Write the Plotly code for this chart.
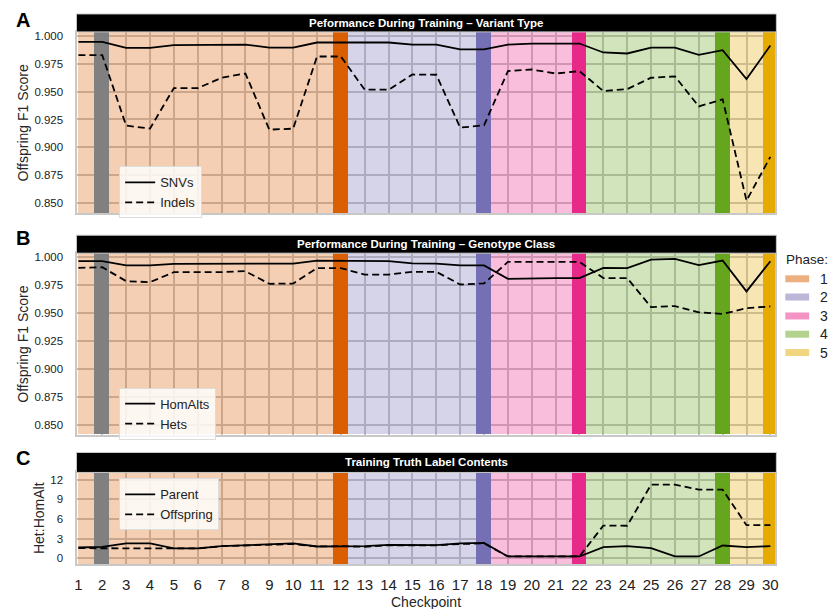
import plotly.graph_objects as go

W, H = 831, 609

checkpoints = list(range(1, 31))

# Panel A: offspring F1 by variant type
snv_f1 = [0.9944, 0.9944, 0.9890, 0.9890, 0.9914, 0.9914, 0.9917, 0.9920, 0.9893, 0.9893,
          0.9938, 0.9938, 0.9938, 0.9938, 0.9920, 0.9920, 0.9876, 0.9876, 0.9920, 0.9929,
          0.9929, 0.9929, 0.9849, 0.9840, 0.9893, 0.9893, 0.9828, 0.9870, 0.9611, 0.9911]
indel_f1 = [0.9825, 0.9825, 0.9195, 0.9168, 0.9531, 0.9530, 0.9623, 0.9661, 0.9159, 0.9168,
            0.9813, 0.9813, 0.9516, 0.9516, 0.9652, 0.9650, 0.9177, 0.9198, 0.9682, 0.9697,
            0.9661, 0.9682, 0.9504, 0.9522, 0.9623, 0.9635, 0.9367, 0.9430, 0.8524, 0.8916]

# Panel B: offspring F1 by genotype class
homalt_f1 = [0.9964, 0.9964, 0.9926, 0.9926, 0.9940, 0.9940, 0.9940, 0.9941, 0.9942, 0.9943,
             0.9970, 0.9970, 0.9964, 0.9964, 0.9945, 0.9943, 0.9926, 0.9926, 0.9807, 0.9813,
             0.9813, 0.9813, 0.9905, 0.9902, 0.9979, 0.9985, 0.9929, 0.9970, 0.9694, 0.9964]
het_f1 = [0.9905, 0.9910, 0.9786, 0.9777, 0.9866, 0.9866, 0.9867, 0.9875, 0.9762, 0.9765,
          0.9902, 0.9902, 0.9845, 0.9845, 0.9869, 0.9869, 0.9756, 0.9765, 0.9958, 0.9958,
          0.9958, 0.9958, 0.9813, 0.9813, 0.9554, 0.9563, 0.9507, 0.9492, 0.9545, 0.9560]

# Panel C: Het:HomAlt ratio of training truth labels
parent_ratio = [1.67, 1.77, 2.28, 2.28, 1.52, 1.52, 1.87, 1.97, 2.12, 2.28,
                1.82, 1.87, 1.87, 2.08, 2.02, 2.02, 2.28, 2.37, 0.30, 0.30,
                0.30, 0.30, 1.72, 1.87, 1.56, 0.30, 0.30, 1.97, 1.72, 1.87]
offspring_ratio = [1.56, 1.56, 1.56, 1.56, 1.52, 1.52, 1.87, 1.97, 2.12, 2.20,
                   1.82, 1.87, 1.77, 2.00, 2.00, 2.00, 2.20, 2.30, 0.30, 0.30,
                   0.30, 0.30, 5.01, 4.98, 11.24, 11.24, 10.48, 10.48, 5.06, 5.06]

# Training phases (checkpoint spans) and Dark2 colours
phase_names = ["1", "2", "3", "4", "5"]
phase_start = [1, 12, 18, 22, 28]
phase_end = [12, 18, 22, 28, 31]
phase_colors = ["#d95f02", "#7570b3", "#e7298a", "#66a61e", "#e6ab02"]

# Selected checkpoints marked with solid bars
marked_checkpoints = [2, 12, 18, 22, 28, 30]
marked_colors = ["#808080", "#d95f02", "#7570b3", "#e7298a", "#66a61e", "#e6ab02"]
marked_width = 0.62

panel_titles = ["Peformance During Training \u2013 Variant Type",
                "Performance During Training \u2013 Genotype Class",
                "Training Truth Label Contents"]
panel_letters = ["A", "B", "C"]

FONT = "Liberation Sans, Arial, sans-serif"
X_RANGE = [0.96, 30.21]


def px(xp):
    return xp / W


def py(yp):
    return 1 - yp / H


def rgba(hexc, a):
    h = hexc.lstrip("#")
    r, g, b = int(h[0:2], 16), int(h[2:4], 16), int(h[4:6], 16)
    return f"rgba({r},{g},{b},{a})"


# plot-area boxes in pixels: (top, bottom), title strip (top, bottom)
panels = [
    dict(area=(30, 212), bar=(12, 30), yrange=[0.8411, 1.0033],
         ticks=[0.85, 0.875, 0.9, 0.925, 0.95, 0.975, 1.0], fmt=".3f",
         ytitle="Offspring F1 Score", ytitle_x=20, letter_y=18),
    dict(area=(252, 434), bar=(234, 252), yrange=[0.8414, 1.0036],
         ticks=[0.85, 0.875, 0.9, 0.925, 0.95, 0.975, 1.0], fmt=".3f",
         ytitle="Offspring F1 Score", ytitle_x=20, letter_y=237),
    dict(area=(472, 564), bar=(452, 472), yrange=[-0.87, 13.1],
         ticks=[0, 3, 6, 9, 12], fmt="d",
         ytitle="Het:HomAlt", ytitle_x=37, letter_y=458),
]
X_LEFT, X_RIGHT = 75, 778

series = [
    [("SNVs", snv_f1, "solid"), ("Indels", indel_f1, "7px,4px")],
    [("HomAlts", homalt_f1, "solid"), ("Hets", het_f1, "7px,4px")],
    [("Parent", parent_ratio, "solid"), ("Offspring", offspring_ratio, "7px,4px")],
]
legend_names = ["legend", "legend2", "legend3"]
legend_pos = [(117, 165), (117, 387), (117, 478)]

fig = go.Figure()
shapes = []
annotations = []
layout = dict(
    width=W, height=H, margin=dict(l=0, r=0, t=0, b=0),
    paper_bgcolor="white", plot_bgcolor="white",
    font=dict(family=FONT, color="#222222"),
    showlegend=True, barmode="overlay", bargap=0,
)

for i, p in enumerate(panels):
    ax = "" if i == 0 else str(i + 1)
    xa, ya = "x" + ax, "y" + ax
    y0, y1 = p["yrange"]
    span = y1 - y0

    # phase shading as translucent full-height bars (over the grid)
    fig.add_trace(go.Bar(
        x=[(s + e) / 2 for s, e in zip(phase_start, phase_end)],
        y=[span] * len(phase_start), base=[y0] * len(phase_start),
        width=[e - s for s, e in zip(phase_start, phase_end)],
        marker=dict(color=[rgba(c, 0.3) for c in phase_colors], line=dict(width=0)),
        xaxis=xa, yaxis=ya, showlegend=False, hoverinfo="skip"))
    # solid bars at the selected checkpoints
    fig.add_trace(go.Bar(
        x=marked_checkpoints, y=[span] * len(marked_checkpoints),
        base=[y0] * len(marked_checkpoints), width=marked_width,
        marker=dict(color=marked_colors, line=dict(width=0)),
        xaxis=xa, yaxis=ya, showlegend=False, hoverinfo="skip"))

    for name, vals, dash in series[i]:
        fig.add_trace(go.Scatter(
            x=checkpoints, y=vals, mode="lines", name=name,
            line=dict(color="black", width=1.8, dash=dash),
            xaxis=xa, yaxis=ya, legend=legend_names[i], hoverinfo="skip"))

    top, bot = p["area"]
    layout["xaxis" + ax] = dict(
        domain=[px(X_LEFT), px(X_RIGHT)], range=X_RANGE, anchor=ya,
        tickmode="array", tickvals=checkpoints,
        showticklabels=(i == 2), ticks="", ticklabelstandoff=6,
        tickfont=dict(size=15, color="#222222"),
        showgrid=True, gridcolor="#c4c4c4", gridwidth=1.5,
        showline=True, mirror=True, linecolor="#c8c8c8", linewidth=2,
        zeroline=False, fixedrange=True)
    layout["yaxis" + ax] = dict(
        domain=[py(bot), py(top)], range=p["yrange"], anchor=xa,
        tickmode="array", tickvals=p["ticks"], tickformat=p["fmt"],
        ticks="", ticklabelstandoff=10,
        tickfont=dict(size=11.5, color="#222222"),
        showgrid=True, gridcolor="#c4c4c4", gridwidth=1.5,
        showline=True, mirror=True, linecolor="#c8c8c8", linewidth=2,
        zeroline=False, fixedrange=True)

    # black title strip
    b0, b1 = p["bar"]
    shapes.append(dict(type="rect", xref="paper", yref="paper",
                       x0=px(X_LEFT - 1), x1=px(X_RIGHT + 1), y0=py(b1), y1=py(b0),
                       fillcolor="black", line=dict(color="#c8c8c8", width=1)))
    annotations.append(dict(text="<b>" + panel_titles[i] + "</b>", xref="paper", yref="paper",
                            x=px((X_LEFT + X_RIGHT) / 2), y=py((b0 + b1) / 2),
                            xanchor="center", yanchor="middle", showarrow=False,
                            font=dict(size=11.5, color="white", family=FONT)))
    # panel letter
    annotations.append(dict(text="<b>" + panel_letters[i] + "</b>", xref="paper", yref="paper",
                            x=px(20), y=py(p["letter_y"]), xanchor="center", yanchor="middle",
                            showarrow=False, font=dict(size=20, color="black", family=FONT)))
    # y-axis title
    annotations.append(dict(text=p["ytitle"], xref="paper", yref="paper",
                            x=px(p["ytitle_x"]), y=py((top + bot) / 2), textangle=-90,
                            xanchor="center", yanchor="middle", showarrow=False,
                            font=dict(size=14, color="#262626", family=FONT)))

    lx, ly = legend_pos[i]
    layout[legend_names[i]] = dict(
        x=px(lx), y=py(ly), xanchor="left", yanchor="top",
        bgcolor="rgba(255,255,255,0.82)", bordercolor="#dcdcdc", borderwidth=1,
        font=dict(size=13, color="#222222", family=FONT),
        itemwidth=30, tracegroupgap=0, itemclick=False, itemdoubleclick=False)

# x-axis title
annotations.append(dict(text="Checkpoint", xref="paper", yref="paper",
                        x=px((X_LEFT + X_RIGHT) / 2), y=py(602), xanchor="center",
                        yanchor="middle", showarrow=False,
                        font=dict(size=14, color="#262626", family=FONT)))

# phase key on the right
annotations.append(dict(text="Phase:", xref="paper", yref="paper", x=px(787), y=py(258),
                        xanchor="left", yanchor="middle", showarrow=False,
                        font=dict(size=13.5, color="#222222", family=FONT)))
key_y = [277.7, 296, 315, 333.3, 351.7]
for name, c, yk in zip(phase_names, phase_colors, key_y):
    shapes.append(dict(type="rect", xref="paper", yref="paper", x0=px(788), x1=px(812),
                       y0=py(yk + 3.5), y1=py(yk - 3.5), fillcolor=rgba(c, 0.5),
                       line=dict(width=0)))
    annotations.append(dict(text=name, xref="paper", yref="paper", x=px(826.5), y=py(yk),
                            xanchor="center", yanchor="middle", showarrow=False,
                            font=dict(size=14, color="#222222", family=FONT)))

layout["shapes"] = shapes
layout["annotations"] = annotations
fig.update_layout(**layout)

fig.write_html("out.html")
